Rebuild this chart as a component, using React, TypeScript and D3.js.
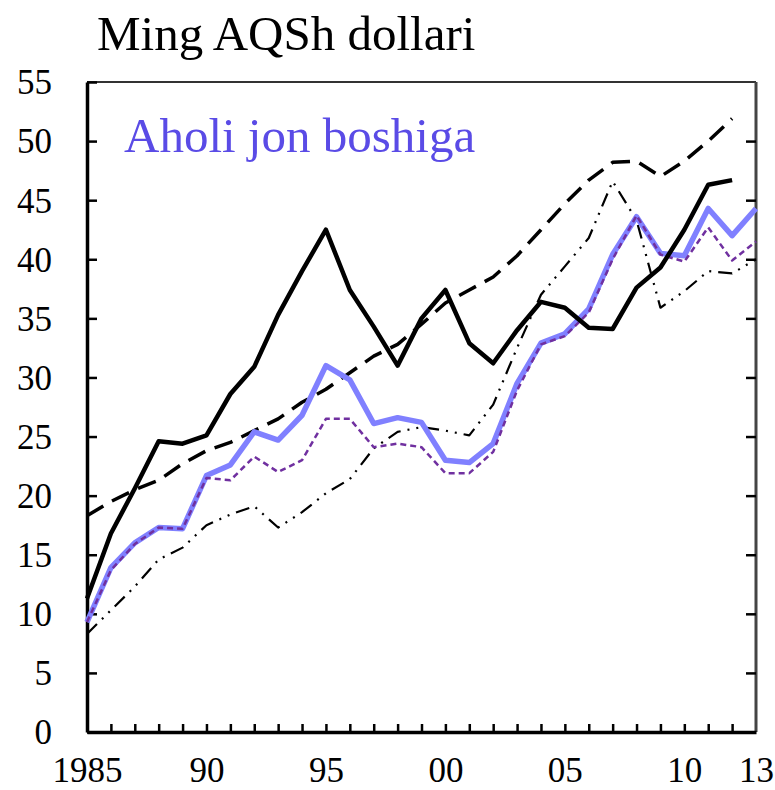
import React, { useEffect, useRef } from "react"
import * as d3 from "d3"

// years on the x axis
const years = [1985, 1986, 1987, 1988, 1989, 1990, 1991, 1992, 1993, 1994, 1995, 1996, 1997, 1998, 1999,
  2000, 2001, 2002, 2003, 2004, 2005, 2006, 2007, 2008, 2009, 2010, 2011, 2012, 2013]

// series values (thousand US$ per capita)
const solidBlack = [11.3, 16.8, 20.6, 24.6, 24.4, 25.1, 28.6, 30.9, 35.3, 39.0, 42.5, 37.4, 34.3, 31.0, 35.0,
  37.4, 32.9, 31.2, 34.0, 36.4, 35.9, 34.2, 34.1, 37.6, 39.3, 42.5, 46.3, 46.7]
const blueLine = [9.3, 13.9, 16.0, 17.3, 17.2, 21.7, 22.6, 25.4, 24.7, 26.8, 31.0, 29.8, 26.1, 26.6, 26.2,
  23.0, 22.8, 24.4, 29.5, 32.9, 33.7, 35.8, 40.4, 43.6, 40.5, 40.3, 44.3, 42.0, 44.3]
const purpleDashed = [9.3, 13.7, 15.9, 17.3, 17.2, 21.5, 21.3, 23.3, 22.0, 23.0, 26.5, 26.5, 24.1, 24.4, 24.1,
  21.9, 21.9, 23.7, 28.9, 32.8, 33.5, 35.5, 40.0, 43.7, 40.4, 39.8, 42.7, 39.9, 41.5]
const longDashed = [18.3, 19.5, 20.5, 21.3, 22.7, 23.8, 24.5, 25.5, 26.5, 27.9, 29.0, 30.4, 31.8, 32.8, 34.5,
  36.3, 37.4, 38.5, 40.3, 42.5, 44.7, 46.7, 48.2, 48.3, 47.0, 48.3, 50.0, 51.9]
const dashDotDot = [8.3, 10.3, 12.3, 14.6, 15.6, 17.5, 18.4, 19.1, 17.3, 18.6, 20.2, 21.4, 24.0, 25.4, 25.8,
  25.5, 25.1, 27.7, 32.5, 37.0, 39.4, 41.8, 46.6, 43.3, 35.9, 37.3, 39.0, 38.8, 40.0]

const yTicks = [0, 5, 10, 15, 20, 25, 30, 35, 40, 45, 50, 55]
const xLabelYears = [1985, 1990, 1995, 2000, 2005, 2010, 2013]
const xLabels = ["1985", "90", "95", "00", "05", "10", "13"]

const title = "Ming AQSh dollari"
const seriesLabel = "Aholi jon boshiga"

const W = 775, H = 790
const left = 87, right = 756, top = 82, bottom = 732
const font = "'Liberation Serif', 'Times New Roman', serif"

export default function App() {
  const ref = useRef<SVGSVGElement>(null)

  useEffect(() => {
    const svg = d3.select(ref.current)
    svg.selectAll("*").remove()

    const x = d3.scaleLinear().domain([1985, 2013]).range([left, right])
    const y = d3.scaleLinear().domain([0, 55]).range([bottom, top])

    // frame
    svg.append("line").attr("x1", left).attr("x2", right).attr("y1", top).attr("y2", top)
      .attr("stroke", "#333").attr("stroke-width", 2)
    svg.append("line").attr("x1", right).attr("x2", right).attr("y1", top).attr("y2", bottom)
      .attr("stroke", "#444").attr("stroke-width", 3)

    // left axis, ticks pointing in
    const yAxis = svg.append("g").attr("transform", `translate(${left},0)`)
      .call(d3.axisLeft(y).tickValues(yTicks).tickSizeInner(-10).tickSizeOuter(0).tickPadding(35))
    // right axis ticks
    svg.append("g").attr("transform", `translate(${right},0)`)
      .call(d3.axisRight(y).tickValues(yTicks.slice(1, -1)).tickSizeInner(-10).tickSizeOuter(0).tickFormat(() => ""))
      .call(g => g.select(".domain").remove())
    // bottom: a tick every year
    svg.append("g").attr("transform", `translate(0,${bottom})`)
      .call(d3.axisBottom(x).tickValues(years.slice(1, -1)).tickSizeInner(-8).tickSizeOuter(0).tickFormat(() => ""))
    // bottom labels
    svg.append("g").attr("transform", `translate(0,${bottom})`)
      .call(d3.axisBottom(x).tickValues(xLabelYears).tickSize(0).tickPadding(25)
        .tickFormat((d, i) => xLabels[i]))
      .call(g => g.select(".domain").remove())

    svg.selectAll(".domain").attr("stroke", "#000").attr("stroke-width", 3.5)
    svg.selectAll(".tick line").attr("stroke", "#000").attr("stroke-width", 2.5)
    svg.selectAll(".tick text").attr("fill", "#000").style("font-family", font).style("font-size", "35px")
    yAxis.selectAll(".tick text").attr("dy", "0.34em")

    const lines = [
      { data: longDashed, color: "#000", width: 3.5, dash: "19,10" },
      { data: dashDotDot, color: "#000", width: 2.2, dash: "14,7,2,7,2,7" },
      { data: blueLine, color: "#8080ff", width: 5.5, dash: null },
      { data: purpleDashed, color: "#7030a0", width: 2.5, dash: "6,4" },
      { data: solidBlack, color: "#000", width: 4.5, dash: null },
    ]
    const line = d3.line<number>().x((d, i) => x(years[i])).y(d => y(d))
    lines.forEach(s => {
      svg.append("path").datum(s.data).attr("d", line)
        .attr("fill", "none").attr("stroke", s.color).attr("stroke-width", s.width)
        .attr("stroke-linejoin", "round")
        .attr("stroke-dasharray", s.dash)
    })

    svg.append("text").attr("x", 97).attr("y", 50).text(title)
      .style("font-family", font).style("font-size", "49px").attr("fill", "#000")
    svg.append("text").attr("x", 124).attr("y", 152).text(seriesLabel)
      .style("font-family", font).style("font-size", "49px").attr("fill", "#5a4be6")
  }, [])

  return (
    <svg ref={ref} width={W} height={H} style={{ position: "absolute", left: 0, top: 0, background: "#fff" }} />
  )
}
